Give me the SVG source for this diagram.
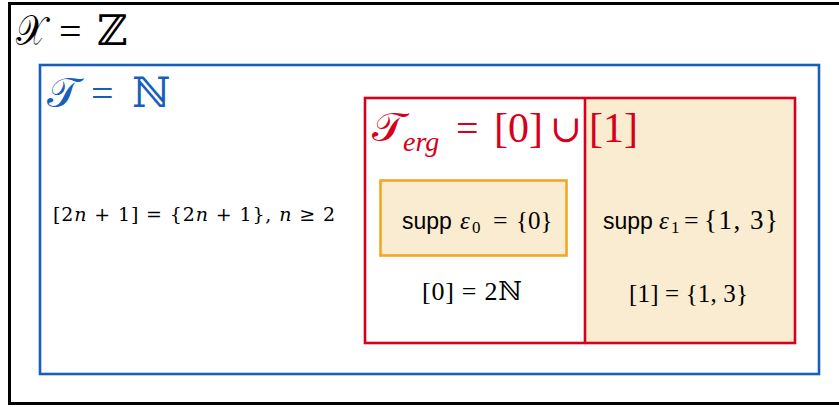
<svg xmlns="http://www.w3.org/2000/svg" width="839" height="407" viewBox="0 0 839 407">
<style>
.m{font-family:"DejaVu Serif","Liberation Serif",serif;}
.s{font-family:"Liberation Serif","DejaVu Serif",serif;}
.a{font-family:"Liberation Sans",Arial,sans-serif;}
.i{font-style:italic;}
.box{fill:none;stroke-width:2.6;}
</style>
<g id="outer">
<rect x="9.5" y="3.5" width="840" height="400" fill="#ffffff" stroke="#000000" stroke-width="3"/>
<text x="16" y="45" font-size="42" class="m" fill="#000" textLength="30" lengthAdjust="spacingAndGlyphs">𝒳</text>
<text x="59" y="45" font-size="40" class="s" fill="#000">=</text>
<text x="97" y="45" font-size="42" class="m" fill="#000">ℤ</text>
</g>
<g id="topology">
<rect x="40" y="65" width="779" height="309" class="box" stroke="#1660bb"/>
<text x="47" y="107" font-size="42" class="m" fill="#1660bb" textLength="32" lengthAdjust="spacingAndGlyphs">𝒯</text>
<text x="91" y="107" font-size="40" class="s" fill="#1660bb">=</text>
<text x="132" y="107" font-size="42" class="m" fill="#1660bb">ℕ</text>
<text x="53" y="221" font-size="19" class="m" fill="#000" textLength="282" lengthAdjust="spacing">[2<tspan class="i">n</tspan> + 1] = {2<tspan class="i">n</tspan> + 1},  <tspan class="i">n</tspan> ≥ 2</text>
</g>
<g id="ergodic">
<rect x="585" y="98" width="210" height="245" fill="#faecd1"/>
<rect x="365" y="98" width="430" height="245" class="box" stroke="#d6001c"/>
<line x1="585" y1="98" x2="585" y2="343" stroke="#d6001c" stroke-width="2.6"/>
<text x="372" y="141" font-size="40" class="m" fill="#d6001c" textLength="33" lengthAdjust="spacingAndGlyphs">𝒯</text>
<text x="403" y="151" font-size="28" class="s i" fill="#d6001c">erg</text>
<text x="456" y="142" font-size="40" class="s" fill="#d6001c">=</text>
<text x="494" y="142" font-size="42" class="s" fill="#d6001c">[0]</text>
<text x="550" y="142" font-size="38" class="m" fill="#d6001c">∪</text>
<text x="589" y="142" font-size="42" class="s" fill="#d6001c">[1]</text>
</g>
<g id="class0">
<rect x="380.5" y="180.5" width="186" height="75" fill="#faecd1" stroke="#f5a623" stroke-width="2.6"/>
<text x="402" y="229" font-size="23" class="a" fill="#000">supp</text>
<text x="460" y="229" font-size="25" class="s i" fill="#000">ε</text>
<text x="472" y="233" font-size="17" class="s" fill="#000">0</text>
<text x="493" y="229" font-size="26" class="s" fill="#000">=</text>
<text x="516" y="229" font-size="25" class="s" fill="#000">{0}</text>
<text x="422" y="300" font-size="26" class="s" fill="#000" textLength="100" lengthAdjust="spacing">[0] = 2ℕ</text>
</g>
<g id="class1">
<text x="603" y="229" font-size="23" class="a" fill="#000">supp</text>
<text x="659" y="229" font-size="25" class="s i" fill="#000">ε</text>
<text x="671" y="233" font-size="17" class="s" fill="#000">1</text>
<text x="684" y="229" font-size="26" class="s" fill="#000">=</text>
<text x="704" y="229" font-size="27" class="s" fill="#000" textLength="74" lengthAdjust="spacing">{1, 3}</text>
<text x="629" y="302" font-size="25" class="s" fill="#000" textLength="119" lengthAdjust="spacing">[1] = {1, 3}</text>
</g>
</svg>
